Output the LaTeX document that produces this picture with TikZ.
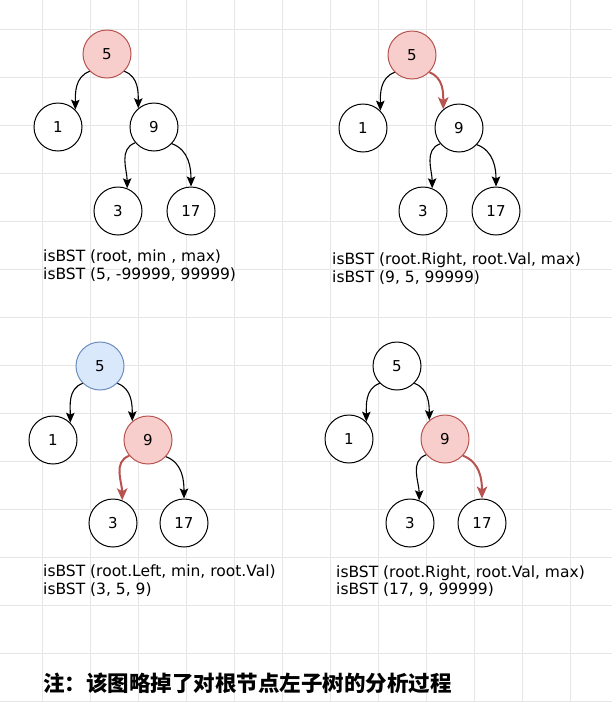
\documentclass[tikz,border=0pt]{standalone}
\usepackage{fontspec}
\setmainfont{DejaVu Sans}
\newfontfamily\cjk{Noto Sans CJK SC}
\usetikzlibrary{arrows.meta}
\definecolor{redfill}{HTML}{F8CECC}
\definecolor{redline}{HTML}{B85450}
\definecolor{bluefill}{HTML}{DAE8FC}
\definecolor{blueline}{HTML}{6C8EBF}
\definecolor{gridc}{HTML}{E6E6E6}
\tikzset{
  treenode/.style={circle, draw=black, fill=white, line width=1pt, minimum size=48pt, inner sep=0pt, font=\fontsize{15}{15}\selectfont},
  rednode/.style={treenode, draw=redline, fill=redfill},
  bluenode/.style={treenode, draw=blueline, fill=bluefill},
  edge/.style={line width=1.1pt, -{Stealth[length=10pt,width=8.5pt,inset=2pt]}},
  rededge/.style={line width=2pt, draw=redline, -{Stealth[length=12pt,width=10.5pt,inset=3pt]}},
  lbl/.style={anchor=base west, inner sep=0pt, font=\fontsize{15.5}{18}\selectfont},
}
\begin{document}
\begin{tikzpicture}[x=1pt,y=-1pt]
\useasboundingbox (0,0) rectangle (612,702);
\fill[white] (0,0) rectangle (612,702);
% grid
\foreach \gx in {42,90,...,570} \draw[gridc, line width=0.8pt] (\gx,0) -- (\gx,702);
\foreach \gy in {29,77,...,701} \draw[gridc, line width=0.8pt] (0,\gy) -- (612,\gy);

% ---------- panel 1 ----------
\node[rednode]  (a5)  at (107,54)  {5};
\node[treenode] (a1)  at (58,127)  {1};
\node[treenode] (a9)  at (154,127) {9};
\node[treenode] (a3)  at (118,211) {3};
\node[treenode] (a17) at (191,211) {17};
\draw[edge] (a5.225) to[out=200,in=90] (a1.45);
\draw[edge] (a5.-45) to[out=-20,in=90] (a9.130);
\draw[edge] (a9.220) to[out=200,in=90] (a3.68);
\draw[edge] (a9.-43) to[out=-20,in=90] (a17.north);
\node[lbl] (at1) at (43,261) {isBST (root, min , max)};
\node[lbl] (at2) at (43,279) {isBST (5, -99999, 99999)};

% ---------- panel 2 ----------
\node[rednode]  (b5)  at (412,55)  {5};
\node[treenode] (b1)  at (363,128) {1};
\node[treenode] (b9)  at (459,128) {9};
\node[treenode] (b3)  at (423,211) {3};
\node[treenode] (b17) at (496,211) {17};
\draw[edge] (b5.225) to[out=200,in=90] (b1.45);
\draw[rededge] (b5.-45) to[out=-20,in=90] (b9.130);
\draw[edge] (b9.220) to[out=200,in=90] (b3.68);
\draw[edge] (b9.-43) to[out=-20,in=90] (b17.north);
\node[lbl] (bt1) at (332,264) {isBST (root.Right, root.Val, max)};
\node[lbl] (bt2) at (332,282) {isBST (9, 5, 99999)};

% ---------- panel 3 ----------
\node[bluenode] (c5)  at (100,366) {5};
\node[treenode] (c1)  at (53,440)  {1};
\node[rednode]  (c9)  at (148,440) {9};
\node[treenode] (c3)  at (113,523) {3};
\node[treenode] (c17) at (184,523) {17};
\draw[edge] (c5.225) to[out=200,in=90] (c1.45);
\draw[edge] (c5.-45) to[out=-20,in=90] (c9.130);
\draw[rededge] (c9.220) to[out=200,in=90] (c3.68);
\draw[edge] (c9.-43) to[out=-20,in=90] (c17.north);
\node[lbl] (ct1) at (43,576) {isBST (root.Left, min, root.Val)};
\node[lbl] (ct2) at (43,594) {isBST (3, 5, 9)};

% ---------- panel 4 ----------
\node[treenode] (d5)  at (397,366) {5};
\node[treenode] (d1)  at (349,439) {1};
\node[rednode]  (d9)  at (445,439) {9};
\node[treenode] (d3)  at (410,523) {3};
\node[treenode] (d17) at (482,523) {17};
\draw[edge] (d5.225) to[out=200,in=90] (d1.45);
\draw[edge] (d5.-45) to[out=-20,in=90] (d9.130);
\draw[edge] (d9.220) to[out=200,in=90] (d3.68);
\draw[rededge] (d9.-43) to[out=-20,in=90] (d17.north);
\node[lbl] (dt1) at (336,577) {isBST (root.Right, root.Val, max)};
\node[lbl] (dt2) at (336,594) {isBST (17, 9, 99999)};

% ---------- note ----------
\node[anchor=west, inner sep=0pt, font=\cjk\bfseries\fontsize{21.5}{24}\selectfont] (note) at (43,683) {注：该图略掉了对根节点左子树的分析过程};
\end{tikzpicture}
\end{document}
